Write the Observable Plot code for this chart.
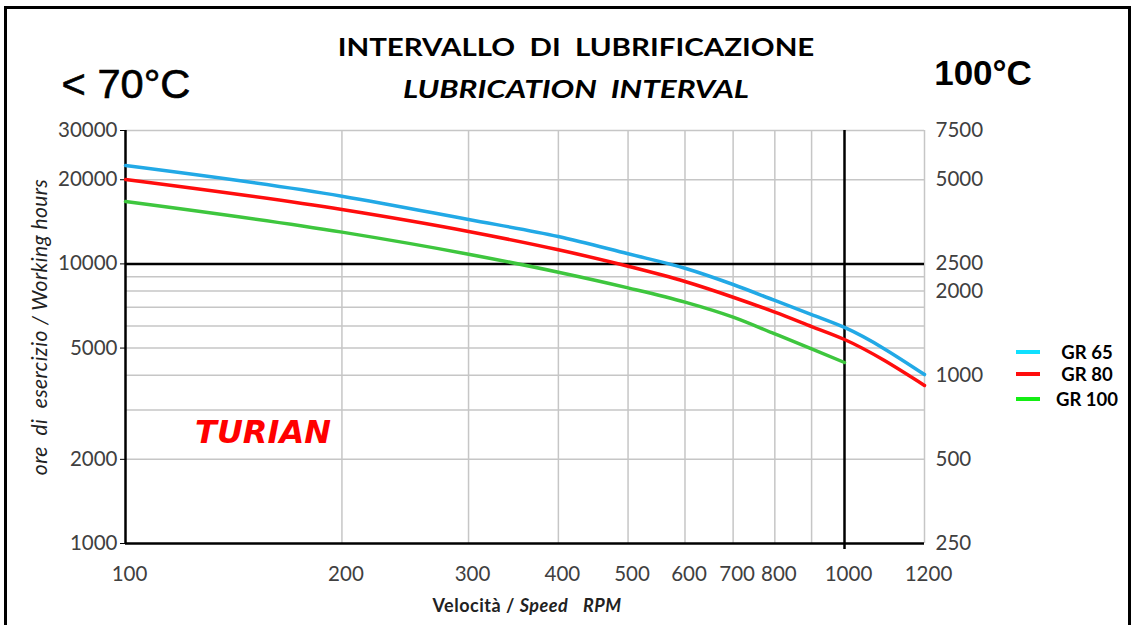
<!DOCTYPE html>
<html><head><meta charset="utf-8">
<script src="https://cdn.jsdelivr.net/npm/d3@7"></script>
<script src="https://cdn.jsdelivr.net/npm/@observablehq/plot@0.6"></script>
<style>
body{margin:0;background:#fff;}
#wrap{position:relative;width:1135px;height:625px;overflow:hidden;background:#fff;}
#frame{position:absolute;left:4px;top:6px;width:1127px;height:660px;border:3px solid #000;box-sizing:border-box;pointer-events:none;}
#chart{position:absolute;left:0;top:0;}
.t{position:absolute;white-space:pre;line-height:1;transform:translate(-50%,-50%);color:#000;}
#title1{left:576px;top:46px;font:bold 25px Lato, sans-serif;transform:translate(-50%,-50%) scaleX(1.18);}
#title2{left:576px;top:88px;font:italic bold 25px Lato, sans-serif;transform:translate(-50%,-50%) scaleX(1.26);}
#t70{left:126px;top:84px;font:40px "Liberation Sans", Arial, sans-serif;-webkit-text-stroke:0.6px #000;transform:translate(-50%,-50%) scaleX(1.04);}
#t100{left:983px;top:73px;font:bold 35px "Liberation Sans", Arial, sans-serif;}
#turian{left:263px;top:432px;font:italic bold 32px "DejaVu Sans", sans-serif;color:#ff0000;}
#ylab{left:38px;top:327px;font:italic 21px Lato, sans-serif;letter-spacing:0.4px;color:#222;transform:translate(-50%,-50%) rotate(-90deg);}
#xlab{left:527px;top:605px;font:bold 18px Lato, sans-serif;letter-spacing:0.5px;color:#222;}
.leg{position:absolute;left:1016px;width:24px;height:4px;}
.legt{position:absolute;left:1087px;font:bold 18.5px Lato, sans-serif;transform:translate(-50%,-50%);line-height:1;white-space:pre;}
</style></head>
<body>
<div id="wrap">
  <div id="chart"></div>
  <div id="frame"></div>
  <div class="t" id="title1">INTERVALLO  DI  LUBRIFICAZIONE</div>
  <div class="t" id="title2">LUBRICATION  INTERVAL</div>
  <div class="t" id="t70">&lt; 70°C</div>
  <div class="t" id="t100">100°C</div>
  <div class="t" id="turian">TURIAN</div>
  <div class="t" id="ylab">ore  di  esercizio / Working hours</div>
  <div class="t" id="xlab">Velocità / <i>Speed</i>   <i>RPM</i></div>
  <div id="legend"></div>
</div>
<script>
// ---- data ----
const speeds = [100, 200, 300, 400, 500, 600, 700, 800, 900, 1000, 1200];
const gr65  = [22480, 17470, 14410, 12530, 10870, 9650, 8440, 7400, 6590, 5925, 4020];
const gr80  = [20040, 15650, 13060, 11230, 9810, 8650, 7600, 6720, 5970, 5365, 3674];
const gr100 = [16720, 12990, 10830, 9340, 8210, 7300, 6450, 5620, 4970, 4440];
const seriesNames = ["GR 65", "GR 80", "GR 100"];
const lineColors = ["#22a9e6", "#ff0d0d", "#3ec63e"];
const legendColors = ["#10e0ff", "#ff0d0d", "#14ee14"];
const xTicks = [100, 200, 300, 400, 500, 600, 700, 800, 1000, 1200];
const xGrid = [200, 300, 400, 500, 600, 700, 800, 900];
const yTicks = [30000, 20000, 10000, 5000, 2000, 1000];
const yGrid = [2000, 3000, 4000, 5000, 6000, 7000, 8000, 9000, 20000];
const rightTickValues = [30000, 20000, 10000, 8000, 4000, 2000, 1000];
const rightTickLabels = ["7500", "5000", "2500", "2000", "1000", "500", "250"];

const table = [];
[gr65, gr80, gr100].forEach((vals, i) => {
  vals.forEach((v, j) => table.push({series: seriesNames[i], speed: speeds[j], hours: v}));
});
const rightTicks = rightTickValues.map((v, i) => ({v, label: rightTickLabels[i]}));

const W = 1135, H = 625;
const mL = 125, mR = 211, mT = 130, mB = 82;
const x1000 = 844;

const chart = Plot.plot({
  width: W, height: H,
  marginLeft: mL, marginRight: mR, marginTop: mT, marginBottom: mB,
  x: {type: "log", domain: [100, 1000, 1200], range: [mL, x1000, W - mR]},
  y: {type: "log", domain: [1000, 30000]},
  color: {domain: seriesNames, range: lineColors},
  style: {fontFamily: "Lato, sans-serif", fontSize: "20.5px", color: "#404040", background: "transparent"},
  marks: [
    Plot.ruleY(yGrid, {stroke: "#c6c6c6", strokeWidth: 1.5}),
    Plot.ruleX(xGrid, {stroke: "#c6c6c6", strokeWidth: 1.5}),
    Plot.ruleY([30000], {stroke: "#c6c6c6", strokeWidth: 1.5}),
    Plot.ruleX([1200], {stroke: "#c6c6c6", strokeWidth: 1.5}),
    Plot.ruleY([10000], {stroke: "#000", strokeWidth: 2.5}),
    Plot.ruleX([1000], {stroke: "#000", strokeWidth: 2.5, insetBottom: -6}),
    Plot.ruleX([100], {stroke: "#000", strokeWidth: 2.5}),
    Plot.ruleY([1000], {stroke: "#000", strokeWidth: 2.5}),
    Plot.axisY({ticks: yTicks, tickFormat: d => String(d), tickSize: 5, tickPadding: 3, stroke: "#000", label: null}),
    Plot.text(rightTicks, {y: "v", text: "label", frameAnchor: "right", dx: 11, textAnchor: "start", fill: "#404040"}),
    Plot.axisX({ticks: xTicks, tickFormat: d => String(d), tickSize: 0, tickPadding: 23, dx: 4, label: null}),
    Plot.line(table, {x: "speed", y: "hours", z: "series", stroke: "series", strokeWidth: 3.5, curve: "monotone-x"})
  ]
});
document.getElementById("chart").appendChild(chart);

// legend
const leg = document.getElementById("legend");
const legY = [352, 374, 399];
seriesNames.forEach((n, i) => {
  const l = document.createElement("div");
  l.className = "leg"; l.style.top = (legY[i] - 2) + "px"; l.style.background = legendColors[i];
  leg.appendChild(l);
  const t = document.createElement("div");
  t.className = "legt"; t.style.top = legY[i] + "px"; t.textContent = n;
  leg.appendChild(t);
});
</script>
</body></html>
